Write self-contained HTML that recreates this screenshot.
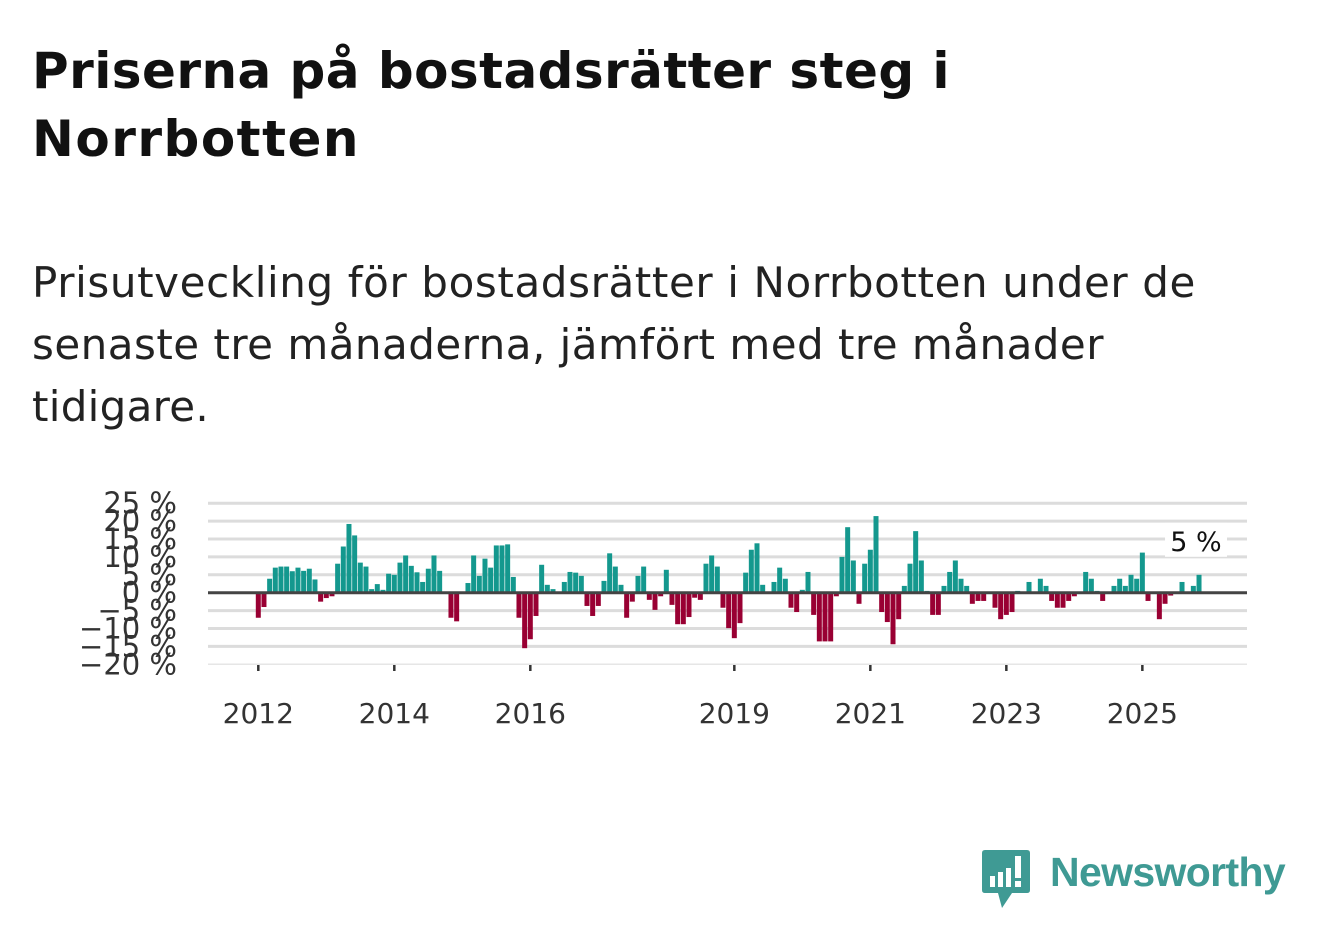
<!DOCTYPE html>
<html><head><meta charset="utf-8"><style>
body{margin:0;background:#fff;width:1322px;height:939px;overflow:hidden;font-family:"DejaVu Sans","Liberation Sans",sans-serif;}
.ln{position:absolute;white-space:nowrap;margin:0;}
.t{font-size:50px;font-weight:bold;color:#111;}
.s{font-size:42px;color:#222;}
svg{position:absolute;left:0;top:0;}
</style></head><body>
<div>
<div class="ln t fit" data-w="918" style="left:32px;top:42px">Priserna på bostadsrätter steg i</div>
<div class="ln t fit" data-w="328" style="left:32px;top:110px">Norrbotten</div>
</div>
<div>
<div class="ln s fit" data-w="1164" style="left:32px;top:258px">Prisutveckling för bostadsrätter i Norrbotten under de</div>
<div class="ln s fit" data-w="1072" style="left:32px;top:320px">senaste tre månaderna, jämfört med tre månader</div>
<div class="ln s fit" data-w="177" style="left:32px;top:382px">tidigare.</div>
</div>
<svg id="chart" width="1322" height="939"></svg>
<div style="position:absolute;left:982px;top:850px;">
<svg width="50" height="60" style="position:absolute;left:0;top:0">
<path d="M3 0H45Q48 0 48 3V40Q48 43 45 43H30L20 58L16 43H3Q0 43 0 40V3Q0 0 3 0Z" fill="#3f9a94"/>
<rect x="8" y="26" width="5" height="11" fill="#fff"/><rect x="16" y="22" width="5" height="15" fill="#fff"/><rect x="24" y="18" width="5" height="19" fill="#fff"/><rect x="33" y="6" width="6" height="22" fill="#fff"/><rect x="33" y="31" width="6" height="6" fill="#fff"/>
</svg>
<span class="ln fit" data-w="235" style="left:68px;top:-1px;font-size:41px;font-weight:bold;color:#3f9a94;font-family:'Liberation Sans',sans-serif">Newsworthy</span>
</div>
<script>
const values=[-7,-4,3.9,7,7.3,7.3,6,7,6.1,6.7,3.7,-2.5,-1.5,-1,8.1,12.9,19.2,16,8.4,7.3,1,2.4,0.8,5.3,5,8.4,10.4,7.5,5.7,3,6.7,10.4,6.1,0,-7,-8,0,2.7,10.4,4.7,9.5,7,13.2,13.2,13.5,4.4,-7,-15.5,-13,-6.5,7.8,2.2,1,0,3,5.8,5.6,4.7,-3.7,-6.5,-3.7,3.3,11,7.3,2.2,-7,-2.5,4.7,7.3,-2,-4.8,-1,6.4,-3.4,-8.8,-8.8,-6.8,-1.4,-2,8.1,10.4,7.3,-4.2,-9.9,-12.7,-8.5,5.6,12,13.8,2.2,0,3,7,3.9,-4.2,-5.4,0.8,5.8,-6.2,-13.6,-13.6,-13.6,-1,10,18.3,9,-3.1,8.1,12,21.4,-5.4,-8.2,-14.4,-7.4,1.9,8.1,17.2,9,0.5,-6.2,-6.2,1.9,5.8,9,3.9,1.9,-3.1,-2.3,-2.3,0,-4.2,-7.4,-6.2,-5.4,0.5,0,3,0,3.9,1.9,-2.3,-4.2,-4.2,-2.3,-1,0,5.8,3.9,0.5,-2.3,0,1.9,3.9,1.9,5,3.9,11.2,-2.3,0.3,-7.4,-3.1,-0.8,0,3,0,1.9,5];
const yTicks=[25,20,15,10,5,0,-5,-10,-15,-20];
const xTickYears=[2012,2014,2016,2019,2021,2023,2025];
const lastLabel="5 %";
document.querySelectorAll('.fit').forEach(el=>{
  const target=+el.getAttribute('data-w');
  const w=el.getBoundingClientRect().width;
  const n=el.textContent.length;
  el.style.letterSpacing=((target-w)/n)+'px';
});
const NS="http://www.w3.org/2000/svg";
const svg=document.getElementById('chart');
const y0=592.7, pxPer=3.58, x0=258.3, pxMonth=5.667;
const Y=v=>y0-v*pxPer;
const X=m=>x0+m*pxMonth;
const FF='DejaVu Sans, Liberation Sans, sans-serif';
function mk(t,a){const e=document.createElementNS(NS,t);for(const k in a)e.setAttribute(k,a[k]);svg.appendChild(e);return e;}
yTicks.forEach(v=>{
  if(v!==0){const g=mk('line',{x1:208,x2:1247,y1:Y(v),y2:Y(v),stroke:v===-20?'#e6e6e6':'#dcdcdc','stroke-width':v===-20?1.5:3});
  
  }
  const t=mk('text',{x:177,y:Y(v),'text-anchor':'end','dominant-baseline':'central','font-size':29,fill:'#333','font-family':FF});
  t.textContent=(v<0?'\u2212'+(-v):v)+' %';
  
  
});
values.forEach((v,i)=>{
  if(v===0)return;
  const r=mk('rect',{x:X(i)-2.5,width:5,y:v>0?Y(v):y0,height:Math.abs(v)*pxPer,fill:v>0?'#14988e':'#990033'});
  
  
});
const z=mk('line',{x1:208,x2:1247,y1:y0,y2:y0,stroke:'#444','stroke-width':3});


xTickYears.forEach(yr=>{
  const x=X((yr-2012)*12);
  const tk=mk('line',{x1:x,x2:x,y1:665,y2:671,stroke:'#333','stroke-width':2.5});
  
  
  const t=mk('text',{x:x,y:723,'text-anchor':'middle','font-size':28,fill:'#333','font-family':FF});
  t.textContent=yr;
  
  
});
const li=values.length-1;
const bg=mk('rect',{x:X(li)-34,y:Y(values[li])-52,width:62,height:34,fill:'#fff'});


const lab=mk('text',{x:X(li)-3,y:Y(values[li])-24,'text-anchor':'middle','font-size':27,fill:'#111','font-family':FF});
lab.textContent=lastLabel;


</script>
</body></html>
